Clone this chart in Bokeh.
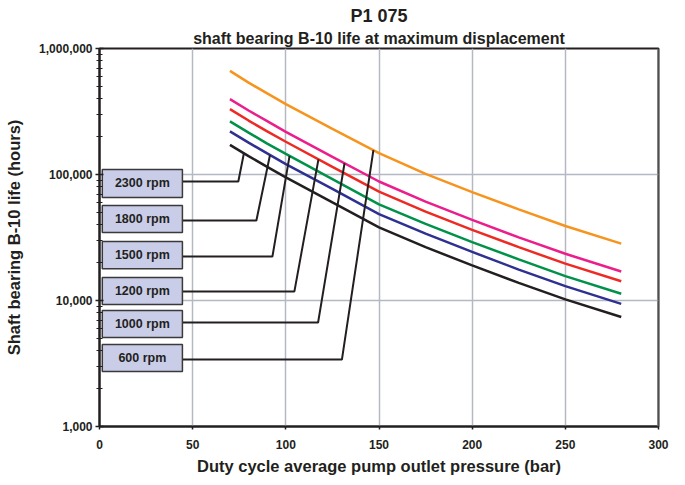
import numpy as np
from bokeh.plotting import figure
from bokeh.models import Range1d, FixedTicker, NumeralTickFormatter, Title, Span
from bokeh.embed import file_html
from bokeh.resources import INLINE
from bokeh.core.properties import value

# ---- data ----
pressure = [70, 80, 90, 100, 125, 150, 175, 200, 225, 250, 280]  # bar

life_600 = [665000, 536000, 440000, 362000, 230000, 148000, 101000, 72500, 52900, 39000, 28300]
life_1000 = [396000, 322000, 265000, 218000, 138000, 88000, 61000, 43700, 31700, 23500, 17000]
life_1200 = [330000, 268000, 220000, 182000, 115000, 73000, 50800, 36400, 26500, 19600, 14200]
life_1500 = [264000, 215000, 176000, 146000, 92000, 58000, 40600, 29100, 21200, 15600, 11300]
life_1800 = [220000, 179000, 147000, 121000, 77000, 48500, 33900, 24300, 17600, 13000, 9400]
life_2300 = [172000, 140000, 115000, 95000, 60000, 38000, 26500, 19000, 13800, 10200, 7400]

speed_labels = ["2300 rpm", "1800 rpm", "1500 rpm", "1200 rpm", "1000 rpm", "600 rpm"]
x_ticks = [0, 50, 100, 150, 200, 250, 300]
y_ticks = [1000, 10000, 100000, 1000000]

# ---- styling / annotation positions ----
series = [
    (life_600, "#F7941D"),
    (life_1000, "#EC1E8C"),
    (life_1200, "#EE2A24"),
    (life_1500, "#00924A"),
    (life_1800, "#2E3192"),
    (life_2300, "#231F20"),
]
series_by_label = {
    "2300 rpm": life_2300, "1800 rpm": life_1800, "1500 rpm": life_1500,
    "1200 rpm": life_1200, "1000 rpm": life_1000, "600 rpm": life_600,
}
box_left, box_right = 1.5, 44.5
box_top = [109600, 56800, 29400, 15200, 8340, 4480]
box_bottom = [65700, 34700, 17900, 9290, 5080, 2730]
leader_y = [87900, 43200, 22300, 11800, 6680, 3400]
leader_corner_x = [74.5, 84.2, 92.8, 104.6, 117.3, 130.1]
leader_end_x = [77.5, 91.5, 102.0, 117.5, 131.5, 147.0]

FONT = "Liberation Sans"
INK = "#231F20"

p = figure(width=670, height=481, output_backend="svg", toolbar_location=None,
           y_axis_type="log", x_range=Range1d(0, 300), y_range=Range1d(1000, 1000000),
           min_border_left=99, min_border_right=12, min_border_top=52, min_border_bottom=51,
           margin=(-4, 0, 0, 0),
           background_fill_color="white", border_fill_color="white")

sub = Title(text="shaft bearing B-10 life at maximum displacement", align="center",
            text_font=FONT, text_font_size="16px", text_font_style="bold",
            text_color=INK, standoff=4)
main = Title(text="P1 075", align="center", text_font=FONT, text_font_size="18px",
             text_font_style="bold", text_color=INK, standoff=0)
p.add_layout(sub, "above")
p.add_layout(main, "above")

# axes
p.xaxis.ticker = FixedTicker(ticks=x_ticks)
minor = []
for d in [1000, 10000, 100000]:
    minor += [d * k for k in range(2, 10)]
p.yaxis.ticker = FixedTicker(ticks=y_ticks, minor_ticks=minor)
p.yaxis.formatter = NumeralTickFormatter(format="0,0")

for ax in (p.xaxis[0], p.yaxis[0]):
    ax.axis_line_color = INK
    ax.axis_line_width = 2
    ax.major_tick_line_color = INK
    ax.major_tick_line_width = 1.5
    ax.minor_tick_line_color = INK
    ax.minor_tick_line_width = 1.2
    ax.major_label_text_font = FONT
    ax.major_label_text_font_style = "bold"
    ax.major_label_text_font_size = "12px"
    ax.major_label_text_color = INK
    ax.axis_label_text_font = FONT
    ax.axis_label_text_font_style = "bold"
    ax.axis_label_text_font_size = "16.5px"
    ax.axis_label_text_color = INK

p.yaxis.major_tick_in = 4
p.yaxis.major_tick_out = 4
p.yaxis.minor_tick_in = 3
p.yaxis.minor_tick_out = 3
p.yaxis.major_label_standoff = 3
p.xaxis.major_tick_in = 0
p.xaxis.major_tick_out = 3
p.xaxis.minor_tick_in = 0
p.xaxis.minor_tick_out = 0
p.xaxis.major_label_standoff = 10
p.xaxis.axis_label = "Duty cycle average pump outlet pressure (bar)"
p.yaxis.axis_label = "Shaft bearing B-10 life (hours)"
p.xaxis.axis_label_standoff = 5
p.yaxis.axis_label_standoff = 13

p.xgrid.grid_line_color = "#B4B8C2"
p.xgrid.grid_line_width = 1.5
p.ygrid.grid_line_color = "#B4B8C2"
p.ygrid.grid_line_width = 1.5

p.outline_line_color = INK
p.outline_line_width = 2
p.add_layout(Span(location=300, dimension="height", line_color="#7F7F7F", line_width=2.5))

# curves
for vals, col in series:
    p.line(pressure, vals, line_color=col, line_width=2.5)

# leader lines and label boxes
logp = np.array(pressure, dtype=float)
for i, lab in enumerate(speed_labels):
    vals = np.log10(np.array(series_by_label[lab], dtype=float))
    y_end = 10 ** np.interp(leader_end_x[i], logp, vals)
    p.line([box_right, leader_corner_x[i], leader_end_x[i]],
           [leader_y[i], leader_y[i], y_end], line_color=INK, line_width=2)

p.quad(left=[box_left] * 6, right=[box_right] * 6, top=box_top, bottom=box_bottom,
       fill_color="#C9CDE8", line_color="#3A3A3A", line_width=1.5)
centers = [np.sqrt(t * b) for t, b in zip(box_top, box_bottom)]
p.text(x=[(box_left + box_right) / 2] * 6, y=centers, text=speed_labels,
       text_align="center", text_baseline="middle", text_font=value(FONT),
       text_font_style="bold", text_font_size="12.5px", text_color=INK)

open("out.html", "w").write(file_html(p, INLINE))
